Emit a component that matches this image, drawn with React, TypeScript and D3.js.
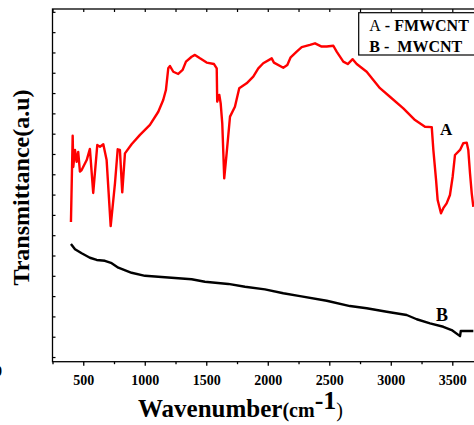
import React, { useEffect, useRef } from 'react';
import * as d3 from 'd3';

// FMWCNT (A) spectrum: wavenumber, transmittance (a.u.)
const waveA = [400, 414, 419, 433, 446, 459, 473, 487, 528, 554, 581, 614, 636, 663, 690, 723, 758, 780, 798, 817, 839, 893, 961, 1042, 1110, 1150, 1172, 1191, 1205, 1232, 1272, 1308, 1335, 1381, 1408, 1449, 1503, 1563, 1585, 1589, 1606, 1617, 1630, 1646, 1666, 1693, 1733, 1768, 1828, 1882, 1923, 1963, 2032, 2050, 2126, 2159, 2186, 2235, 2276, 2343, 2384, 2438, 2479, 2533, 2560, 2587, 2614, 2650, 2690, 2723, 2804, 2912, 2993, 3102, 3197, 3278, 3333, 3346, 3368, 3381, 3408, 3427, 3454, 3481, 3503, 3522, 3563, 3589, 3617, 3630, 3644, 3658, 3671];
const transA = [6.65, 10.9, 9.36, 10.2, 9.61, 10.1, 9.13, 9.21, 9.7, 10.25, 8.08, 10.44, 10.36, 10.48, 9.7, 6.45, 8.57, 10.23, 10.2, 8.11, 10.03, 10.48, 10.94, 11.43, 12.08, 12.66, 13.15, 14.22, 14.33, 14.05, 13.94, 14.14, 14.55, 14.79, 14.88, 14.71, 14.5, 14.43, 14.22, 12.58, 12.91, 12.5, 11.51, 8.8, 10.05, 11.84, 12.33, 13.24, 13.48, 13.81, 14.22, 14.47, 14.71, 14.5, 14.25, 14.38, 14.76, 15.04, 15.26, 15.37, 15.45, 15.29, 15.29, 15.33, 15.04, 14.79, 14.55, 14.43, 14.67, 14.43, 14.05, 13.24, 12.82, 12.25, 11.67, 11.34, 11.32, 10.2, 8.72, 7.73, 7.08, 7.33, 7.57, 7.98, 8.88, 9.95, 10.2, 10.53, 10.56, 10.2, 9.05, 8.06, 7.4];

// MWCNT (B) spectrum
const waveB = [400, 433, 487, 554, 609, 676, 731, 785, 893, 1002, 1164, 1381, 1489, 1679, 1815, 1977, 2126, 2262, 2479, 2668, 2804, 2967, 3129, 3211, 3319, 3427, 3495, 3563, 3569, 3671];
const transB = [5.57, 5.31, 5.11, 4.89, 4.78, 4.74, 4.62, 4.4, 4.15, 4.0, 3.93, 3.83, 3.71, 3.6, 3.46, 3.33, 3.14, 3.0, 2.77, 2.51, 2.4, 2.23, 2.07, 1.86, 1.66, 1.49, 1.33, 1.03, 1.28, 1.28];

const xTicks = [500, 1000, 1500, 2000, 2500, 3000, 3500];
const xMinor = [250, 750, 1250, 1750, 2250, 2750, 3250, 3750];
const legendItems = ['A - FMWCNT', 'B -  MWCNT'];

const App = () => {
  const svgRef = useRef(null);

  useEffect(() => {
    const svg = d3.select(svgRef.current);
    svg.selectAll('*').remove();

    const left = 52.5, right = 513.8, top = 9, bottom = 361.7;
    const x = d3.scaleLinear().domain([250, 4000]).range([left, right]);
    const y = d3.scaleLinear().domain([-0.23, 17.14]).range([bottom, top]);
    const font = "'Liberation Serif', 'Times New Roman', serif";

    // frame
    svg.append('rect')
      .attr('x', left).attr('y', top)
      .attr('width', right - left).attr('height', bottom - top)
      .attr('fill', 'none').attr('stroke', '#000').attr('stroke-width', 1.3);

    // bottom axis
    const bx = svg.append('g').attr('transform', `translate(0,${bottom})`)
      .call(d3.axisBottom(x).tickValues(xTicks).tickSize(4).tickPadding(9).tickFormat(d3.format('d')));
    bx.select('.domain').remove();
    bx.selectAll('line').attr('stroke-width', 1.3);
    bx.selectAll('text').attr('font-family', font).attr('font-weight', 'bold').attr('font-size', 14).attr('fill', '#000');
    svg.append('g').attr('transform', `translate(0,${bottom})`)
      .call(d3.axisBottom(x).tickValues(xMinor).tickSize(2.5).tickFormat(() => ''))
      .call((g) => g.select('.domain').remove())
      .selectAll('line').attr('stroke-width', 1.3);

    // top axis (inward)
    svg.append('g').attr('transform', `translate(0,${top})`)
      .call(d3.axisBottom(x).tickValues(xTicks.concat(xMinor)).tickSize(3).tickFormat(() => ''))
      .call((g) => g.select('.domain').remove())
      .selectAll('line').attr('stroke-width', 1.2);

    // left axis (inward, no labels)
    svg.append('g').attr('transform', `translate(${left},0)`)
      .call(d3.axisRight(y).tickValues(d3.range(0, 18)).tickSize(3).tickFormat(() => ''))
      .call((g) => g.select('.domain').remove())
      .selectAll('line').attr('stroke-width', 1.2);

    const line = d3.line().x((d) => x(d[0])).y((d) => y(d[1]));

    svg.append('path')
      .datum(waveA.map((w, i) => [w, transA[i]]))
      .attr('d', line)
      .attr('fill', 'none').attr('stroke', '#ff0000').attr('stroke-width', 2.4)
      .attr('stroke-linejoin', 'round');

    svg.append('path')
      .datum(waveB.map((w, i) => [w, transB[i]]))
      .attr('d', line)
      .attr('fill', 'none').attr('stroke', '#000').attr('stroke-width', 2.4)
      .attr('stroke-linejoin', 'round');

    // curve labels
    svg.append('text').attr('x', 440).attr('y', 135).text('A')
      .attr('font-family', font).attr('font-weight', 'bold').attr('font-size', 17);
    svg.append('text').attr('x', 436).attr('y', 320.5).text('B')
      .attr('font-family', font).attr('font-weight', 'bold').attr('font-size', 18);

    // legend
    svg.append('rect').attr('x', 358.7).attr('y', 12.7).attr('width', 150).attr('height', 42.3)
      .attr('fill', '#fff').attr('stroke', '#000').attr('stroke-width', 1.2);
    legendItems.forEach((t, i) => {
      const txt = svg.append('text').attr('x', 369.3).attr('y', 30.7 + i * 21)
        .attr('font-family', font).attr('font-size', 16).attr('font-weight', 'bold')
        .attr('xml:space', 'preserve').style('white-space', 'pre');
      if (i === 0) {
        txt.append('tspan').attr('font-weight', 'normal').text('A');
        txt.append('tspan').text(t.slice(1));
      } else {
        txt.text(t);
      }
    });

    // y label
    svg.append('text')
      .attr('transform', 'translate(28.5,187.5) rotate(-90)')
      .attr('text-anchor', 'middle')
      .attr('font-family', font).attr('font-weight', 'bold').attr('font-size', 24)
      .text('Transmittance(a.u)');

    // x label
    const xl = svg.append('text').attr('x', 138).attr('y', 416.5)
      .attr('font-family', font).attr('font-weight', 'bold').attr('font-size', 25);
    xl.append('tspan').text('Wavenumber');
    xl.append('tspan').attr('font-size', 20).text('(cm');
    xl.append('tspan').attr('font-size', 26).attr('dy', -8).text('-1');
    xl.append('tspan').attr('font-size', 20).attr('dy', 8).attr('font-weight', 'normal').text(')');

    // fragment of a label cut by the left edge
    svg.append('text').attr('x', -5).attr('y', 376).text('0')
      .attr('font-family', font).attr('font-weight', 'bold').attr('font-size', 14);
  }, []);

  return (
    <svg
      ref={svgRef}
      width={474}
      height={425}
      style={{ position: 'absolute', left: 0, top: 0, background: '#fff', overflow: 'hidden' }}
    ></svg>
  );
};

export default App;
